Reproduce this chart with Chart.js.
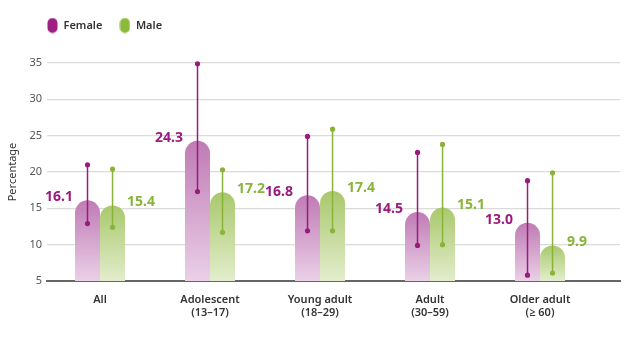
<!DOCTYPE html>
<html>
<head>
<meta charset="utf-8">
<script src="https://cdn.jsdelivr.net/npm/chart.js@4"></script>
<style>
  html, body { margin: 0; padding: 0; background: #fff; }
  #wrap { width: 640px; height: 338px; }
</style>
</head>
<body>
<div id="wrap"><canvas id="chart"></canvas></div>
<script>
// DATA
const categories = ["All", "Adolescent", "Young adult", "Adult", "Older adult"];
const ageRanges = ["", "(13–17)", "(18–29)", "(30–59)", "(≥ 60)"];
const female = [16.1, 24.3, 16.8, 14.5, 13.0];
const male = [15.4, 17.2, 17.4, 15.1, 9.9];
const femaleLow = [12.9, 17.3, 11.9, 9.9, 5.8];
const femaleHigh = [21.0, 34.9, 24.9, 22.7, 18.8];
const maleLow = [12.4, 11.7, 11.9, 10.0, 6.1];
const maleHigh = [20.4, 20.3, 25.9, 23.8, 19.9];
const yTicks = [5, 10, 15, 20, 25, 30, 35];

const FEMALE_DARK = "#9a1b7e";
const MALE_DARK = "#8ab33a";
const FONT = "'Noto Sans', 'Open Sans', sans-serif";

function barGradient(top, bottom) {
  return function (ctx) {
    const chart = ctx.chart;
    const area = chart.chartArea;
    if (!area || ctx.parsed === undefined) return top;
    const yTop = chart.scales.y.getPixelForValue(ctx.parsed.y);
    const g = chart.ctx.createLinearGradient(0, yTop, 0, area.bottom);
    g.addColorStop(0, top);
    g.addColorStop(1, bottom);
    return g;
  };
}

// legend pill markers
function pill(color) {
  const c = document.createElement("canvas");
  c.width = 11; c.height = 16;
  const x = c.getContext("2d");
  x.fillStyle = color;
  x.beginPath();
  x.roundRect(0.5, 0.5, 10, 15, 5);
  x.fill();
  return c;
}

// legend placement: leave room above plot, start in line with the plot
const legendPlace = {
  id: "legendPlace",
  beforeLayout(chart) {
    const lg = chart.legend;
    if (lg && !lg._patched) {
      const fit = lg.fit;
      lg.fit = function () { fit.call(this); this.height = 63; };
      lg._patched = true;
    }
  },
  afterLayout(chart) {
    if (chart.legend) {
      chart.legend.left = 30;
      chart.legend.top = 3;
    }
  }
};

// error bars + value labels
const extrasPlugin = {
  id: "extras",
  afterDatasetsDraw(chart) {
    const ctx = chart.ctx;
    const y = chart.scales.y;
    const sets = [
      { low: femaleLow, high: femaleHigh, vals: female, color: FEMALE_DARK, side: "left" },
      { low: maleLow, high: maleHigh, vals: male, color: MALE_DARK, side: "right" }
    ];
    sets.forEach((s, di) => {
      const meta = chart.getDatasetMeta(di);
      meta.data.forEach((bar, i) => {
        const yl = y.getPixelForValue(s.low[i]);
        const yh = y.getPixelForValue(s.high[i]);
        ctx.save();
        ctx.strokeStyle = s.color;
        ctx.fillStyle = s.color;
        ctx.lineWidth = 1.5;
        ctx.beginPath();
        ctx.moveTo(bar.x, yl);
        ctx.lineTo(bar.x, yh);
        ctx.stroke();
        [yl, yh].forEach(py => {
          ctx.beginPath();
          ctx.arc(bar.x, py, 2.6, 0, Math.PI * 2);
          ctx.fill();
        });
        // value label
        ctx.font = "bold 14px " + FONT;
        ctx.textBaseline = "middle";
        const half = bar.width / 2;
        if (s.side === "left") {
          ctx.textAlign = "right";
          ctx.fillText(s.vals[i].toFixed(1), bar.x - half - 2, bar.y - 3);
        } else {
          ctx.textAlign = "left";
          ctx.fillText(s.vals[i].toFixed(1), bar.x + half + 2, bar.y - 3);
        }
        ctx.restore();
      });
    });
  }
};

new Chart(document.getElementById("chart"), {
  type: "bar",
  data: {
    datasets: [
      {
        label: "Female",
        data: female.map((v, i) => ({ x: i, y: v })),
        backgroundColor: barGradient("#c07bb5", "#ead0e7"),
        borderRadius: 13,
        borderSkipped: "bottom",
        categoryPercentage: 0.455,
        barPercentage: 1,
        pointStyle: pill("#9e2083")
      },
      {
        label: "Male",
        data: male.map((v, i) => ({ x: i, y: v })),
        backgroundColor: barGradient("#a9c86c", "#e3edcd"),
        borderRadius: 13,
        borderSkipped: "bottom",
        categoryPercentage: 0.455,
        barPercentage: 1,
        pointStyle: pill("#8cbb3c")
      }
    ]
  },
  options: {
    responsive: true,
    maintainAspectRatio: false,
    animation: false,
    layout: { padding: { left: 0, right: 20, top: 0, bottom: 0 } },
    plugins: {
      legend: {
        position: "top",
        align: "start",
        labels: {
          usePointStyle: true,
          color: "#333",
          font: { family: FONT, size: 11, weight: "600" },
          padding: 17,
          boxHeight: 16
        }
      },
      tooltip: { enabled: false }
    },
    scales: {
      x: {
        type: "linear",
        offset: false,
        min: -0.482,
        max: 4.727,
        afterBuildTicks: axis => { axis.ticks = categories.map((c, i) => ({ value: i })); },
        afterFit: axis => { axis.height = 57; },
        grid: { display: false, offset: false },
        border: { display: true, color: "#666", width: 2 },
        ticks: {
          padding: 4,
          color: "#333",
          font: { family: FONT, size: 11, weight: "600" },
          callback: v => ageRanges[v] ? [categories[v], ageRanges[v]] : categories[v]
        }
      },
      y: {
        min: 5,
        max: 35,
        afterBuildTicks: axis => { axis.ticks = yTicks.map(v => ({ value: v })); },
        afterFit: axis => { axis.width = 47; },
        grid: { color: "#dadada", lineWidth: 1.2, drawTicks: false },
        border: { display: false },
        ticks: {
          padding: 5,
          color: "#555",
          font: { family: FONT, size: 11 }
        },
        title: {
          display: true,
          text: "Percentage",
          color: "#333",
          font: { family: FONT, size: 11 },
          padding: { top: 6, bottom: 0 }
        }
      }
    }
  },
  plugins: [extrasPlugin, legendPlace]
});
</script>
</body>
</html>
